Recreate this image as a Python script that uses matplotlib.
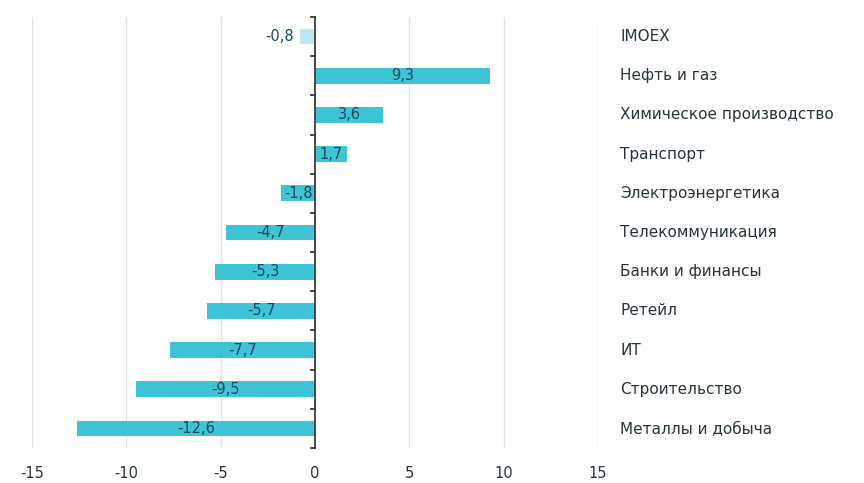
import numpy as np
import matplotlib
matplotlib.use("Agg")
import matplotlib.pyplot as plt
import matplotlib.transforms as mtransforms

plt.rcParams["font.family"] = ["DejaVu Sans"]

sectors = ["IMOEX", "Нефть и газ", "Химическое производство", "Транспорт",
           "Электроэнергетика", "Телекоммуникация", "Банки и финансы",
           "Ретейл", "ИТ", "Строительство", "Металлы и добыча"]
values = [-0.8, 9.3, 3.6, 1.7, -1.8, -4.7, -5.3, -5.7, -7.7, -9.5, -12.6]

bar_color = "#3ec4d6"
index_color = "#bfe7ef"
text_color = "#26343a"
value_color = "#174a5a"

fig = plt.figure(figsize=(8.64, 4.83), dpi=100)
ax = fig.add_axes([32 / 864, 1 - 448 / 483, (598 - 32) / 864, (448 - 17) / 483])

ypos = np.arange(len(sectors))
colors = [index_color] + [bar_color] * (len(sectors) - 1)
ax.barh(ypos, values, height=0.4, color=colors, zorder=2)

ax.set_xlim(-15, 15)
ax.set_ylim(len(sectors) - 0.5, -0.5)

# vertical gridlines
ax.set_xticks(np.arange(-15, 16, 5))
ax.set_xticklabels([str(v) for v in range(-15, 16, 5)], fontsize=10.5, color=text_color)
ax.tick_params(axis="x", length=0, pad=13)
for v in range(-15, 16, 5):
    if v != 0:
        ax.axvline(v, color="#e2e2e2", lw=1, zorder=0)

for s in ax.spines.values():
    s.set_visible(False)

# zero axis with short ticks between categories
ax.plot([0, 0], [-0.5, len(sectors) - 0.5], color="#3a3a3a", lw=1.3, zorder=3, clip_on=False)
for y in np.arange(-0.5, len(sectors), 1.0):
    ax.plot([-0.22, 0], [y, y], color="#3a3a3a", lw=1.3, zorder=3, clip_on=False)
ax.set_yticks([])

# value labels
for y, v in zip(ypos, values):
    label = f"{v:.1f}".replace(".", ",")
    if abs(v) < 1:
        ax.text(v - 0.3, y, label, ha="right", va="center", fontsize=10.5, color=value_color, zorder=4)
    else:
        ax.text(v / 2, y, label, ha="center", va="center", fontsize=10.5, color=value_color, zorder=4)

# sector names to the right
trans = mtransforms.blended_transform_factory(ax.transAxes, ax.transData)
for y, name in zip(ypos, sectors):
    ax.text(1.039, y, name, transform=trans, ha="left", va="center", fontsize=11, color=text_color)

fig.savefig("out.png", dpi=100)
